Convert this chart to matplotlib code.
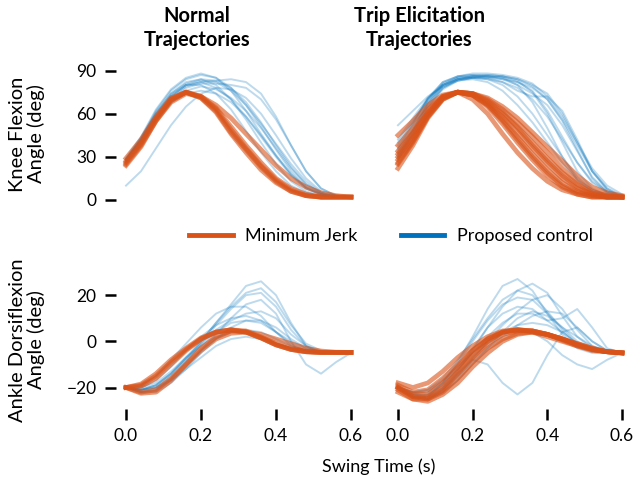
import matplotlib
matplotlib.use("Agg")
import matplotlib.pyplot as plt
from matplotlib.lines import Line2D

plt.rcParams['font.family'] = ['Lato', 'DejaVu Sans']

# colours
c_mj = "#D95319"
c_pc = "#0072BD"

# swing time grid (s)
t = [0.0, 0.04, 0.08, 0.12, 0.16, 0.20, 0.24, 0.28, 0.32, 0.36, 0.40, 0.44, 0.48, 0.52, 0.56, 0.60]

# knee, normal trajectories
knee_norm_mj = [
    [27, 40, 57, 70, 75, 71, 62, 47, 35, 23, 13, 6, 3, 2, 2, 2],
    [24, 37, 55, 69, 75, 72, 63, 49, 36, 24, 14, 7, 3, 2, 2, 2],
    [29, 42, 58, 71, 75, 71, 61, 46, 33, 21, 12, 6, 3, 2, 2, 2],
    [26, 39, 56, 70, 75, 72, 64, 51, 38, 26, 15, 8, 4, 2, 2, 2],
    [25, 38, 55, 68, 74, 72, 66, 57, 46, 35, 24, 15, 9, 5, 3, 2],
]
knee_norm_pc = [
    [28, 42, 60, 74, 82, 84, 80, 70, 56, 40, 25, 13, 6, 3, 2, 2],
    [27, 41, 58, 72, 80, 82, 78, 70, 58, 44, 30, 17, 8, 4, 2, 2],
    [29, 43, 62, 76, 84, 87, 85, 78, 66, 51, 35, 20, 9, 4, 2, 2],
    [26, 38, 55, 68, 76, 79, 77, 71, 62, 50, 36, 22, 11, 5, 3, 2],
    [28, 42, 60, 73, 80, 80, 74, 63, 48, 33, 20, 10, 5, 3, 2, 2],
    [10, 20, 36, 52, 65, 74, 78, 77, 71, 60, 45, 29, 15, 6, 3, 2],
    [28, 41, 58, 71, 79, 82, 83, 84, 82, 74, 58, 38, 20, 8, 3, 2],
    [27, 40, 57, 70, 78, 81, 81, 80, 78, 70, 56, 38, 20, 8, 3, 2],
    [28, 43, 61, 74, 81, 84, 83, 78, 68, 54, 38, 23, 11, 5, 2, 2],
    [29, 44, 63, 77, 85, 88, 85, 76, 62, 46, 31, 18, 8, 4, 2, 2],
    [27, 40, 56, 68, 74, 76, 74, 68, 58, 45, 31, 18, 9, 4, 2, 2],
    [28, 42, 59, 72, 80, 83, 82, 76, 66, 53, 39, 25, 13, 5, 2, 2],
]

# knee, trip elicitation trajectories
knee_trip_mj = [
    [22, 38, 57, 70, 75, 73, 66, 56, 44, 32, 21, 12, 6, 3, 2, 2],
    [30, 44, 60, 72, 75, 73, 67, 58, 47, 36, 25, 15, 8, 4, 2, 2],
    [38, 50, 63, 72, 75, 74, 69, 61, 51, 40, 29, 19, 11, 5, 3, 2],
    [26, 41, 58, 70, 75, 73, 65, 53, 40, 28, 17, 9, 4, 2, 2, 2],
    [34, 47, 61, 71, 75, 74, 70, 63, 54, 44, 33, 22, 13, 6, 3, 2],
    [28, 42, 59, 71, 75, 73, 66, 55, 42, 30, 19, 10, 5, 3, 2, 2],
    [25, 40, 58, 71, 75, 70, 60, 46, 33, 22, 13, 7, 4, 2, 2, 2],
    [32, 46, 61, 72, 75, 74, 68, 60, 50, 38, 27, 17, 9, 4, 2, 2],
    [45, 55, 66, 73, 75, 74, 71, 65, 57, 47, 37, 27, 17, 9, 5, 3],
]
knee_trip_pc = [
    [30, 48, 68, 80, 85, 86, 86, 85, 80, 68, 50, 30, 14, 6, 3, 2],
    [35, 52, 70, 82, 86, 87, 87, 86, 83, 75, 60, 40, 20, 8, 3, 2],
    [40, 55, 70, 80, 84, 85, 85, 84, 82, 78, 70, 55, 35, 15, 5, 2],
    [28, 45, 64, 77, 83, 85, 84, 80, 72, 60, 45, 30, 16, 7, 3, 2],
    [52, 62, 72, 79, 83, 85, 86, 86, 84, 79, 70, 56, 38, 20, 8, 3],
    [33, 50, 68, 80, 85, 86, 85, 82, 76, 72, 72, 62, 42, 20, 7, 2],
    [38, 54, 70, 81, 86, 88, 88, 87, 85, 81, 72, 58, 40, 22, 10, 4],
    [30, 47, 66, 78, 83, 84, 82, 76, 66, 54, 40, 26, 14, 6, 3, 2],
    [36, 53, 71, 82, 86, 87, 86, 84, 80, 74, 66, 52, 34, 16, 6, 2],
    [32, 49, 67, 79, 84, 86, 86, 85, 82, 76, 62, 44, 26, 12, 5, 2],
    [42, 57, 71, 80, 84, 85, 84, 82, 78, 70, 58, 42, 26, 13, 6, 3],
    [29, 46, 65, 78, 84, 86, 87, 86, 84, 80, 74, 60, 40, 20, 8, 2],
]

# ankle, normal trajectories
ankle_norm_mj = [
    [-20, -18.5, -14, -8, -3, 1.5, 4, 5, 4, 1.5, -1.5, -3.5, -4.5, -4.8, -4.8, -4.8],
    [-20, -19, -15, -9, -3.5, 1, 4, 5, 4, 1.5, -1.5, -3.5, -4.5, -4.8, -4.8, -4.8],
    [-20, -19.5, -16, -10, -4, 1, 4, 5, 4.5, 2, -1, -3, -4.3, -4.8, -4.8, -4.8],
    [-20, -22.5, -22, -17, -10, -3, 2, 4.5, 4, 1.5, -1.5, -3.5, -4.5, -4.8, -4.8, -4.8],
    [-20, -22, -21, -16, -10, -4, 1, 3.5, 4, 3, 1, -1, -3, -4.2, -4.7, -4.8],
]
ankle_norm_pc = [
    [-20, -21, -19, -14, -7, 0, 8, 16, 24, 26, 20, 8, -2, -5, -5, -5],
    [-20, -22, -21, -16, -9, -1, 7, 14, 20, 21, 15, 5, -2, -5, -5, -5],
    [-20, -20, -17, -11, -4, 2, 7, 10, 11, 9, 4, -1, -4, -5, -5, -5],
    [-20, -22, -22, -18, -12, -5, 1, 6, 9, 9, 6, 1, -3, -5, -5, -5],
    [-20, -19, -15, -8, -1, 6, 12, 15, 15, 11, 4, -2, -4, -5, -5, -5],
    [-20, -21, -20, -16, -10, -4, 1, 4, 5, 4, 1, -2, -4, -5, -5, -5],
    [-20, -22, -21, -17, -11, -4, 3, 10, 16, 18, 12, 0, -10, -14, -9, -5],
    [-20, -21, -19, -14, -7, -1, 5, 9, 12, 13, 10, 3, -2, -4.5, -5, -5],
    [-20, -20, -18, -13, -7, -2, 2, 4, 4, 2, -1, -3, -4.5, -5, -5, -5],
    [-20, -22, -20, -15, -8, 0, 8, 15, 21, 23, 17, 7, -1, -4, -5, -5],
    [-20, -21, -19, -14, -8, -2, 4, 8, 9, 8, 4, 0, -3, -4.5, -5, -5],
    [-20, -21, -20, -17, -12, -7, -2, 1, 2, 1, -1, -3, -4, -5, -5, -5],
]

# ankle, trip elicitation trajectories
ankle_trip_mj = [
    [-20, -24, -25, -21, -14, -6, 0, 4, 5, 4.5, 3, 1, -1.5, -3.5, -4.5, -5],
    [-18, -20, -18, -13, -7, -2, 2, 4.5, 5, 4.5, 3, 1, -1.5, -3.5, -4.5, -5],
    [-22, -25, -25, -22, -16, -9, -3, 1, 3.5, 4, 3, 1, -1, -3, -4.5, -5],
    [-19, -22, -21, -16, -10, -4, 1, 4, 5, 4.5, 3, 0.5, -2, -3.5, -4.5, -5],
    [-21, -25, -26, -23, -18, -11, -5, 0, 3, 4, 3, 1, -1, -3, -4.5, -5],
    [-20, -23, -23, -18, -11, -4, 1, 4, 5, 4, 2, 0, -2, -4, -4.5, -5],
    [-20, -24, -24, -20, -13, -7, -1, 3, 4.5, 4.5, 3, 1, -1.5, -3.5, -4.5, -5],
]
ankle_trip_pc = [
    [-20, -24, -24, -18, -9, 2, 14, 24, 27, 22, 12, 3, -3, -5, -5, -5],
    [-20, -23, -24, -20, -13, -4, 6, 15, 22, 25, 21, 11, 2, -3, -5, -5],
    [-20, -24, -25, -22, -17, -10, -3, 4, 10, 13, 11, 6, 0, -3, -4.5, -5],
    [-20, -22, -22, -18, -12, -5, 2, 8, 12, 12, 9, 4, -1, -4, -5, -5],
    [-20, -24, -25, -21, -14, -8, -10, -18, -23, -18, -6, 4, 6, 0, -4, -5],
    [-20, -23, -23, -18, -10, 0, 9, 16, 19, 18, 12, 6, 2, -2, -4, -5],
    [-20, -24, -25, -22, -16, -8, 0, 7, 13, 18, 20, 14, 5, -2, -5, -5],
    [-20, -22, -21, -17, -11, -5, 0, 4, 7, 8, 7, 4, -1, -4, -5, -5],
    [-20, -24, -24, -20, -14, -7, -1, 3, 5, 4, 0, -6, -10, -12, -8, -5],
    [-20, -23, -23, -19, -12, -3, 6, 12, 15, 14, 9, 10, 14, 6, -3, -5],
    [-20, -24, -25, -21, -15, -9, -3, 2, 7, 11, 13, 12, 6, 0, -4, -5],
    [-20, -22, -21, -16, -8, 1, 10, 18, 22, 20, 13, 5, -1, -4, -5, -5],
]

x_ticks = [0.0, 0.2, 0.4, 0.6]
x_tick_labels = ["0.0", "0.2", "0.4", "0.6"]
knee_ticks = [0, 30, 60, 90]
ankle_ticks = [-20, 0, 20]

W, H = 636, 483
fig = plt.figure(figsize=(W / 100, H / 100), dpi=100)


def box(l, t_, r, b):
    return [l / W, 1 - b / H, (r - l) / W, (b - t_) / H]


ax_kn = fig.add_axes(box(116, 65, 356, 205))
ax_kt = fig.add_axes(box(388, 65, 627, 205))
ax_an = fig.add_axes(box(116, 270, 356, 409))
ax_at = fig.add_axes(box(388, 270, 627, 409))

panels = [
    (ax_kn, knee_norm_pc, knee_norm_mj),
    (ax_kt, knee_trip_pc, knee_trip_mj),
    (ax_an, ankle_norm_pc, ankle_norm_mj),
    (ax_at, ankle_trip_pc, ankle_trip_mj),
]

for ax, pc, mj in panels:
    for y in pc:
        ax.plot(t, y, color=c_pc, lw=1.4, alpha=0.26)
    for y in mj:
        ax.plot(t, y, color=c_mj, lw=3.4, alpha=0.6)
    for s in ax.spines.values():
        s.set_visible(False)
    ax.set_xlim(-0.0267, 0.6133)
    ax.tick_params(length=8, width=1.8, labelsize=12.5, pad=6)

for ax in (ax_kn, ax_kt):
    ax.set_ylim(-3.5, 93.9)
    ax.set_yticks(knee_ticks)
    ax.set_xticks([])
for ax in (ax_an, ax_at):
    ax.set_ylim(-29.3, 30.9)
    ax.set_yticks(ankle_ticks)
    ax.set_xticks(x_ticks)
    ax.set_xticklabels(x_tick_labels)
for ax in (ax_kt, ax_at):
    ax.set_yticks([])

fig.text(27 / W, 1 - 134 / H, "Knee Flexion\nAngle (deg)", rotation=90, ha="center",
         va="center", fontsize=14.5, linespacing=1.05)
fig.text(27 / W, 1 - 340 / H, "Ankle Dorsiflexion\nAngle (deg)", rotation=90, ha="center",
         va="center", fontsize=14.5, linespacing=1.05)

fig.text(197 / W, 1 - 28 / H, "Normal\nTrajectories", ha="center", va="center",
         fontsize=14.5, fontweight="bold", linespacing=1.25)
fig.text(419 / W, 1 - 28 / H, "Trip Elicitation\nTrajectories", ha="center", va="center",
         fontsize=14.5, fontweight="bold", linespacing=1.25)
fig.text(379 / W, 1 - 467 / H, "Swing Time (s)", ha="center", va="center", fontsize=13)

handles = [Line2D([], [], color=c_mj, lw=3.5), Line2D([], [], color=c_pc, lw=3.5)]
fig.legend(handles, ["Minimum Jerk", "Proposed control"], loc="center",
           bbox_to_anchor=(391 / W, 1 - 236 / H), ncol=2, frameon=False,
           fontsize=13, handlelength=2.4, columnspacing=2.4, handletextpad=0.7)

plt.savefig("out.png", dpi=100)
